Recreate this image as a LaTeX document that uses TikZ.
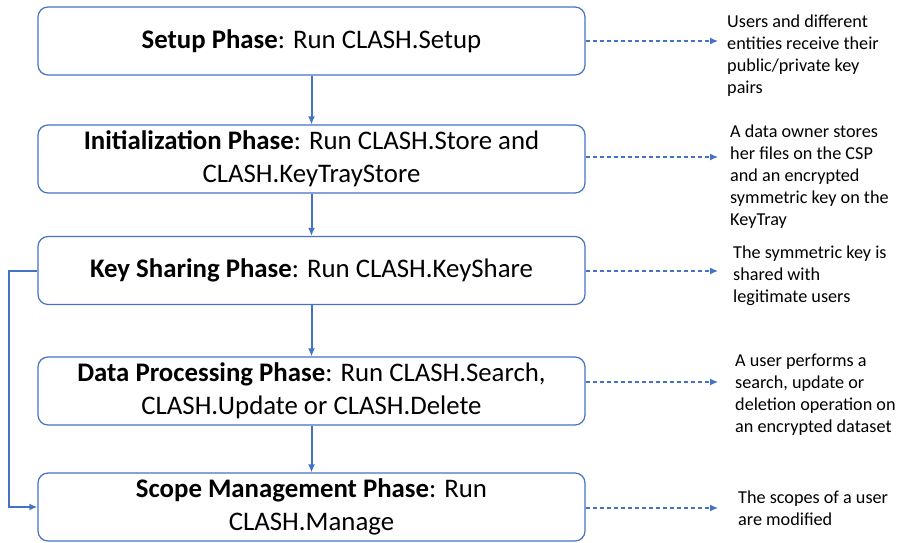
\documentclass[tikz,border=0pt]{standalone}
\usepackage{fontspec}
\setmainfont{Carlito}
\usetikzlibrary{arrows.meta}
\definecolor{obl}{HTML}{4472C4}
\begin{document}
\begin{tikzpicture}[x=1pt,y=-1pt,
  phase/.style={draw=obl, line width=1.2pt, rounded corners=10pt, minimum width=547pt, minimum height=68pt, align=center, font=\fontsize{26.8}{33}\selectfont, inner sep=2pt},
  flow/.style={draw=obl, line width=2pt, -{Latex[length=8pt,width=7pt]}},
  dflow/.style={draw=obl, line width=1.2pt, dash pattern=on 4pt off 3pt, -{Latex[length=8pt,width=7pt]}},
  note/.style={anchor=north west, align=left, inner sep=0pt, font=\fontsize{18.2}{22}\selectfont}]
\useasboundingbox (0,0) rectangle (900,543);
\node[phase] (p1) at (311.5,41) {\textbf{Setup Phase}: Run CLASH.Setup};
\node[phase] (p2) at (311.5,159) {\textbf{Initialization Phase}: Run CLASH.Store and\\CLASH.KeyTrayStore};
\node[phase] (p3) at (311.5,270.5) {\textbf{Key Sharing Phase}: Run CLASH.KeyShare};
\node[phase] (p4) at (311.5,391) {\textbf{Data Processing Phase}: Run CLASH.Search,\\CLASH.Update or CLASH.Delete};
\node[phase] (p5) at (311.5,507) {\textbf{Scope Management Phase}: Run\\CLASH.Manage};
\draw[flow] (p1) -- (p2);
\draw[flow] (p2) -- (p3);
\draw[flow] (p3) -- (p4);
\draw[flow] (p4) -- (p5);
\draw[flow] (p3.west) -- ++(-28,0) |- (p5.west);
\coordinate (e1) at (718,41);
\coordinate (e2) at (718,157);
\coordinate (e3) at (718,271);
\coordinate (e4) at (718,382);
\coordinate (e5) at (718,508);
\draw[dflow] (p1.east) -- (e1);
\draw[dflow] (p2.east |- e2) -- (e2);
\draw[dflow] (p3.east |- e3) -- (e3);
\draw[dflow] (p4.east |- e4) -- (e4);
\draw[dflow] (p5.east |- e5) -- (e5);
\node[note] (n1) at (727,15) {Users and different\\entities receive their\\public/private key\\pairs};
\node[note] (n2) at (730,125) {A data owner stores\\her files on the CSP\\and an encrypted\\symmetric key on the\\KeyTray};
\node[note] (n3) at (733,246) {The symmetric key is\\shared with\\legitimate users};
\node[note] (n4) at (735,354) {A user performs a\\search, update or\\deletion operation on\\an encrypted dataset};
\node[note] (n5) at (738,491) {The scopes of a user\\are modified};
\end{tikzpicture}
\end{document}
